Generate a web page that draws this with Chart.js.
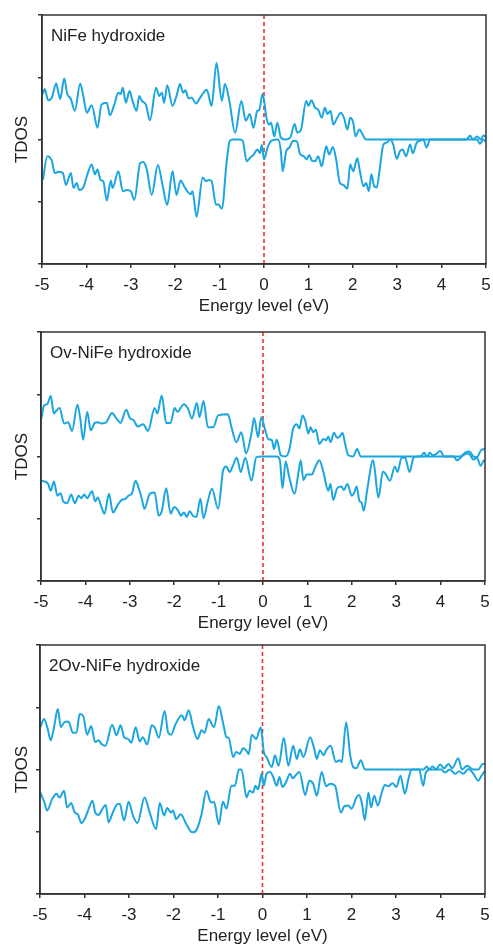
<!DOCTYPE html>
<html>
<head>
<meta charset="utf-8">
<script src="https://cdn.jsdelivr.net/npm/chart.js@4.4.1/dist/chart.umd.min.js"></script>
<style>
  body { margin: 0; background: #fff; }
  canvas { position: absolute; left: 0; }
</style>
</head>
<body>
<canvas id="p1" width="493" height="317" style="top:0px"></canvas>
<canvas id="p2" width="493" height="317" style="top:317px"></canvas>
<canvas id="p3" width="493" height="317" style="top:630px"></canvas>
<script>
// TDOS curves, energy in eV, spin-up above zero and spin-down below
const xTicks = [-5, -4, -3, -2, -1, 0, 1, 2, 3, 4, 5]
const yTicks = [-2, -1, 0, 1, 2]

const nifeUpE = [-4.98,-4.94,-4.86,-4.78,-4.68,-4.63,-4.59,-4.50,-4.43,-4.35,
  -4.26,-4.14,-4.07,-3.99,-3.88,-3.75,-3.66,-3.54,-3.47,-3.38,
  -3.28,-3.23,-3.18,-3.11,-3.03,-2.96,-2.87,-2.81,-2.75,-2.66,
  -2.57,-2.43,-2.36,-2.30,-2.25,-2.18,-2.06,-1.97,-1.89,-1.82,
  -1.77,-1.70,-1.63,-1.53,-1.44,-1.29,-1.18,-1.07,-0.95,-0.88,
  -0.78,-0.65,-0.51,-0.41,-0.32,-0.24,-0.15,-0.11,-0.03,0.06,
  0.12,0.16,0.23,0.30,0.38,0.47,0.59,0.69,0.75,0.83,
  0.95,1.00,1.07,1.15,1.22,1.30,1.37,1.43,1.50,1.56,
  1.65,1.73,1.80,1.88,1.94,2.01,2.06,2.15,2.22,2.30,
  4.56,4.64,4.71,4.80,4.88,4.95,5.00]
const nifeUpV = [0.73,0.81,0.63,0.67,0.90,0.75,0.65,0.98,0.73,0.65,
  0.46,0.90,0.70,0.43,0.55,0.19,0.56,0.59,0.39,0.54,
  0.75,0.73,0.83,0.59,0.78,0.62,0.46,0.70,0.62,0.56,
  0.31,0.83,0.70,0.75,0.59,0.87,0.54,0.70,0.89,0.75,
  0.79,0.66,0.67,0.58,0.67,0.80,0.54,1.23,0.62,0.89,
  0.62,0.11,0.62,0.30,0.41,0.19,0.46,0.47,0.73,0.33,
  0.24,0.27,0.05,0.27,0.03,0,0.03,0.25,0.11,0.15,
  0.62,0.54,0.63,0.51,0.48,0.35,0.51,0.41,0.46,0.24,
  0.35,0.43,0.35,0.16,0.35,0.27,0.05,0.16,0.08,0,
  0,0.06,0,0.05,0,0.07,0.03]
const nifeDnE = [-4.98,-4.88,-4.78,-4.71,-4.63,-4.53,-4.46,-4.35,-4.29,-4.22,
  -4.16,-4.07,-3.99,-3.88,-3.81,-3.75,-3.68,-3.62,-3.54,-3.45,
  -3.41,-3.28,-3.18,-3.09,-3.00,-2.92,-2.79,-2.72,-2.64,-2.53,
  -2.39,-2.28,-2.18,-2.06,-1.97,-1.88,-1.80,-1.74,-1.65,-1.61,
  -1.52,-1.38,-1.31,-1.25,-1.18,-1.08,-1.03,-0.95,-0.84,-0.77,
  -0.69,-0.54,-0.48,-0.39,-0.32,-0.23,-0.15,-0.09,-0.05,0.00,
  0.08,0.17,0.32,0.38,0.42,0.50,0.57,0.66,0.74,0.81,
  0.90,0.96,1.02,1.08,1.15,1.22,1.30,1.40,1.47,1.55,
  1.62,1.71,1.79,1.88,1.94,2.01,2.10,2.16,2.24,2.30,
  2.36,2.42,2.48,2.54,2.60,2.69,2.76,2.85,2.91,2.99,
  3.06,3.12,3.20,3.29,3.35,3.44,3.51,3.59,3.66,3.74,
  4.80,4.86,4.94,5.00]
const nifeDnV = [-0.65,-0.27,-0.34,-0.54,-0.52,-0.54,-0.73,-0.54,-0.78,-0.70,
  -0.81,-0.77,-0.59,-0.40,-0.56,-0.48,-0.65,-0.67,-0.98,-0.66,
  -0.78,-0.51,-0.83,-0.81,-0.83,-0.97,-0.38,-0.36,-0.48,-0.89,
  -0.41,-0.75,-1.05,-0.51,-0.89,-0.66,-0.75,-0.82,-0.88,-0.83,
  -1.24,-0.61,-0.67,-0.65,-0.67,-1.05,-1.04,-1.11,-0.35,-0.02,
  0,0,-0.02,-0.35,-0.30,-0.24,-0.16,-0.22,-0.09,-0.32,
  -0.13,-0.02,0,-0.19,-0.51,-0.19,-0.13,-0.02,-0.03,-0.23,
  -0.27,-0.32,-0.25,-0.34,-0.35,-0.27,-0.43,-0.11,-0.24,-0.12,
  -0.30,-0.70,-0.73,-0.79,-0.40,-0.51,-0.30,-0.51,-0.75,-0.70,
  -0.83,-0.56,-0.75,-0.77,-0.51,-0.08,-0.05,0,-0.08,-0.31,
  -0.19,-0.16,-0.27,-0.08,-0.22,-0.05,-0.02,0,-0.13,0,
  0,-0.07,0,-0.04]

const ovUpE = [-4.99,-4.93,-4.86,-4.78,-4.71,-4.65,-4.58,-4.48,-4.39,-4.30,
  -4.18,-4.12,-4.05,-3.96,-3.88,-3.79,-3.72,-3.64,-3.53,-3.40,
  -3.30,-3.21,-3.08,-3.00,-2.91,-2.82,-2.70,-2.59,-2.44,-2.38,
  -2.28,-2.18,-2.08,-1.99,-1.93,-1.78,-1.69,-1.60,-1.49,-1.43,
  -1.34,-1.24,-1.12,-1.01,-0.79,-0.71,-0.60,-0.49,-0.38,-0.26,
  -0.20,-0.11,-0.04,0.05,0.12,0.20,0.25,0.31,0.40,0.50,
  0.59,0.68,0.76,0.82,0.89,0.95,1.02,1.07,1.13,1.19,
  1.27,1.36,1.42,1.47,1.52,1.60,1.67,1.73,1.79,1.85,
  1.92,2.03,2.12,2.20,3.55,3.63,3.69,3.76,3.82,3.90,
  3.99,4.08,4.44,4.57,4.65,4.74,4.82,4.90,4.98,5.00]
const ovUpV = [0.61,0.82,0.84,0.97,0.69,0.74,0.78,0.53,0.55,0.41,
  0.83,0.63,0.27,0.72,0.42,0.54,0.55,0.53,0.55,0.70,
  0.61,0.54,0.75,0.62,0.58,0.48,0.52,0.41,0.78,0.69,
  0.98,0.54,0.54,0.78,0.72,0.84,0.77,0.61,0.86,0.63,
  0.89,0.47,0.47,0.66,0.68,0.47,0.23,0.39,0.05,0.37,
  0.62,0.31,0.63,0.42,0.28,0.26,0.12,0.27,0.02,0,
  0.10,0.45,0.52,0.45,0.66,0.58,0.37,0.47,0.39,0.43,
  0.20,0.28,0.26,0.32,0.23,0.38,0.30,0.32,0.38,0.20,
  0.02,0,0.12,0,0,0.06,0,0.06,0.02,0.04,
  0.09,0,0,0.07,0.08,0,-0.01,0.09,0.12,0.12]
const ovDnE = [-4.99,-4.92,-4.84,-4.78,-4.71,-4.63,-4.56,-4.50,-4.41,-4.32,
  -4.24,-4.15,-4.09,-4.03,-3.96,-3.85,-3.78,-3.72,-3.64,-3.57,
  -3.47,-3.38,-3.28,-3.19,-3.10,-3.03,-2.95,-2.87,-2.80,-2.73,
  -2.67,-2.55,-2.44,-2.35,-2.28,-2.18,-2.08,-2.00,-1.91,-1.85,
  -1.78,-1.72,-1.65,-1.58,-1.50,-1.41,-1.34,-1.24,-1.15,-1.01,
  -0.90,-0.83,-0.75,-0.68,-0.59,-0.50,-0.40,-0.26,-0.15,-0.04,
  0.31,0.38,0.44,0.51,0.59,0.71,0.80,0.85,0.91,0.98,
  1.10,1.17,1.27,1.36,1.47,1.52,1.58,1.67,1.77,1.82,
  1.90,2.00,2.05,2.11,2.17,2.22,2.27,2.35,2.48,2.60,
  2.70,2.77,2.86,2.97,3.03,3.12,3.20,3.30,3.39,3.46,
  4.29,4.37,4.45,4.53,4.63,4.74,4.82,4.90,4.98,5.00]
const ovDnV = [-0.39,-0.40,-0.44,-0.55,-0.40,-0.63,-0.59,-0.72,-0.75,-0.61,
  -0.75,-0.63,-0.67,-0.61,-0.67,-0.56,-0.72,-0.66,-0.81,-0.92,
  -0.60,-0.90,-0.79,-0.70,-0.68,-0.63,-0.59,-0.39,-0.51,-0.68,
  -0.84,-0.60,-0.58,-0.95,-0.88,-0.51,-0.92,-0.81,-0.87,-0.95,
  -0.90,-0.97,-0.88,-0.95,-0.97,-0.68,-0.99,-0.71,-0.52,-0.84,
  -0.23,-0.16,-0.25,-0.15,-0.02,-0.25,-0.02,-0.39,-0.01,0,
  0,-0.06,-0.51,-0.08,-0.33,-0.60,-0.25,-0.06,-0.38,-0.29,
  -0.29,-0.18,-0.06,-0.25,-0.55,-0.44,-0.70,-0.51,-0.48,-0.54,
  -0.44,-0.63,-0.59,-0.48,-0.71,-0.74,-0.87,-0.52,-0.06,-0.66,
  -0.24,-0.29,-0.39,-0.16,-0.25,-0.02,-0.02,-0.25,-0.02,0,
  0,-0.06,-0.02,0.03,0.05,-0.05,-0.02,-0.15,-0.06,-0.08]

const ov2UpE = [-4.99,-4.91,-4.83,-4.76,-4.69,-4.60,-4.53,-4.45,-4.36,-4.26,
  -4.18,-4.11,-4.03,-3.94,-3.85,-3.76,-3.68,-3.62,-3.53,-3.38,
  -3.28,-3.19,-3.11,-3.02,-2.95,-2.85,-2.76,-2.69,-2.59,-2.49,
  -2.42,-2.33,-2.20,-2.12,-2.05,-1.96,-1.81,-1.75,-1.66,-1.56,
  -1.46,-1.37,-1.30,-1.21,-1.09,-0.98,-0.89,-0.81,-0.76,-0.66,
  -0.59,-0.51,-0.44,-0.37,-0.31,-0.24,-0.14,-0.04,0.03,0.09,
  0.21,0.28,0.36,0.48,0.58,0.69,0.77,0.84,0.92,1.07,
  1.16,1.22,1.29,1.37,1.44,1.53,1.65,1.73,1.78,1.88,
  1.97,2.04,2.11,2.21,2.30,3.62,3.69,3.75,3.82,3.90,
  3.99,4.08,4.18,4.26,4.40,4.48,4.60,4.74,4.85,4.95,
  5.00]
const ov2UpV = [0.68,0.81,0.66,0.47,0.66,0.97,0.68,0.76,0.77,0.59,
  0.59,0.89,0.86,0.56,0.70,0.44,0.47,0.41,0.38,0.72,
  0.55,0.71,0.52,0.49,0.43,0.68,0.45,0.52,0.40,0.71,
  0.67,0.51,0.94,0.59,0.56,0.72,0.87,0.79,0.95,0.68,
  0.49,0.63,0.59,0.81,0.68,1.02,0.76,0.52,0.51,0.20,
  0.28,0.25,0.34,0.31,0.25,0.56,0.49,0.68,0.28,0.20,
  0.04,0.23,0.06,0.51,0.06,0.38,0.17,0.32,0.20,0.52,
  0.34,0.17,0.31,0.23,0.32,0.38,0.12,0.15,0.12,0.76,
  0.23,0.04,0.02,0.15,0,0,0.05,0,0.05,0,
  0.08,0.02,0.09,0.02,0.18,0,0.06,0,0,0.09,
  0.09]
const ov2DnE = [-4.99,-4.90,-4.84,-4.73,-4.63,-4.56,-4.46,-4.39,-4.30,-4.22,
  -4.15,-4.07,-4.00,-3.92,-3.82,-3.76,-3.68,-3.62,-3.52,-3.46,
  -3.38,-3.28,-3.21,-3.11,-3.01,-2.91,-2.81,-2.65,-2.54,-2.39,
  -2.31,-2.21,-2.14,-2.06,-2.01,-1.94,-1.84,-1.71,-1.58,-1.48,
  -1.37,-1.26,-1.16,-1.09,-0.98,-0.89,-0.81,-0.70,-0.62,-0.53,
  -0.47,-0.36,-0.29,-0.21,-0.16,-0.10,-0.02,0.03,0.09,0.17,
  0.24,0.32,0.38,0.45,0.53,0.62,0.68,0.75,0.83,0.96,
  1.05,1.14,1.22,1.33,1.43,1.52,1.63,1.76,1.84,1.93,
  2.00,2.11,2.17,2.23,2.30,2.38,2.44,2.51,2.59,2.68,
  2.75,2.83,2.92,3.01,3.10,3.20,3.28,3.35,3.52,3.61,
  3.67,3.76,4.02,4.10,4.21,4.33,4.42,4.51,4.63,4.74,
  4.85,4.92,5.00]
const ov2DnV = [-0.37,-0.53,-0.66,-0.48,-0.39,-0.45,-0.34,-0.61,-0.54,-0.69,
  -0.72,-0.86,-0.80,-0.66,-0.50,-0.69,-0.73,-0.66,-0.57,-0.85,
  -0.72,-0.57,-0.55,-0.82,-0.52,-0.74,-0.86,-0.45,-0.68,-0.96,
  -0.54,-0.74,-0.62,-0.69,-0.66,-0.80,-0.72,-0.88,-1.01,-0.97,
  -0.72,-0.34,-0.53,-0.52,-0.88,-0.52,-0.63,-0.26,-0.26,0,
  0,-0.45,-0.34,-0.37,-0.26,-0.32,-0.07,-0.26,-0.07,-0.04,
  -0.12,-0.26,-0.12,-0.28,-0.20,-0.07,-0.14,-0.09,-0.04,-0.41,
  -0.18,-0.23,-0.42,-0.04,-0.27,-0.23,-0.26,-0.69,-0.59,-0.58,
  -0.63,-0.45,-0.41,-0.53,-0.81,-0.37,-0.61,-0.42,-0.58,-0.37,
  -0.25,-0.27,-0.22,-0.28,-0.10,-0.39,-0.15,0,0,-0.26,
  -0.05,0,0,-0.05,0,-0.07,-0.03,-0.07,0.01,-0.07,
  -0.18,-0.10,-0.02]

var blue = '#1ba6e0'
var red = '#e5322d'
var axisColor = '#333'
var textColor = '#222'
var fontFamily = '"Liberation Sans", Arial, sans-serif'
var fontSize = 17

function pts(es, vs){
    return es.map(function(e, i){ return {x: e, y: vs[i]} })
}

// box round the plot area plus the sample name in the corner
var framePlugin = {
    id: 'frame',
    afterDraw: function(chart){
        var ctx = chart.ctx
        var a = chart.chartArea
        ctx.save()
        ctx.strokeStyle = axisColor
        ctx.lineWidth = 1.5
        ctx.strokeRect(a.left, a.top, a.right - a.left, a.bottom - a.top)
        ctx.fillStyle = textColor
        ctx.font = fontSize + 'px ' + fontFamily
        ctx.textBaseline = 'middle'
        ctx.fillText(chart.options.plugins.frame.name, a.left + 9, a.top + 21)
        ctx.restore()
    }
}

function panel(id, name, upE, upV, dnE, dnV, left, right){
    var c = document.getElementById(id).getContext('2d')
    return new Chart(c, {
        type: 'line',
        data: {
            datasets: [
                { data: pts(upE, upV), borderColor: blue, borderWidth: 2, pointRadius: 0, cubicInterpolationMode: 'monotone' },
                { data: pts(dnE, dnV), borderColor: blue, borderWidth: 2, pointRadius: 0, cubicInterpolationMode: 'monotone' },
                { data: [{x: 0, y: -2}, {x: 0, y: 2}], borderColor: red, borderWidth: 1.6, borderDash: [4, 3], pointRadius: 0 }
            ]
        },
        options: {
            responsive: false,
            animation: false,
            layout: { padding: { left: 0, top: 15, right: 493 - right, bottom: 0 } },
            plugins: { legend: { display: false }, tooltip: { enabled: false }, frame: { name: name } },
            scales: {
                x: {
                    type: 'linear', min: -5, max: 5,
                    afterBuildTicks: function(s){ s.ticks = xTicks.map(function(v){ return {value: v} }) },
                    // fixed height, and no extra room for the end labels
                    afterFit: function(s){ s.height = 53; s.paddingLeft = 0; s.paddingRight = 0 },
                    grid: { drawOnChartArea: false, tickLength: 4, color: axisColor, lineWidth: 1.5 },
                    border: { color: axisColor, width: 1.5 },
                    ticks: { color: textColor, padding: 7, maxRotation: 0, font: { family: fontFamily, size: fontSize } },
                    title: { display: true, text: 'Energy level (eV)', color: textColor, padding: 0, font: { family: fontFamily, size: fontSize } }
                },
                y: {
                    type: 'linear', min: -2, max: 2,
                    afterBuildTicks: function(s){ s.ticks = yTicks.map(function(v){ return {value: v} }) },
                    afterFit: function(s){ s.width = left; s.paddingTop = 0; s.paddingBottom = 0 },
                    grid: { drawOnChartArea: false, tickLength: 4, color: axisColor, lineWidth: 1.5 },
                    border: { color: axisColor, width: 1.5 },
                    ticks: { display: false },
                    title: { display: true, text: 'TDOS', color: textColor, padding: { top: 12, bottom: 0 }, font: { family: fontFamily, size: fontSize } }
                }
            }
        },
        plugins: [framePlugin]
    })
}

panel('p1', 'NiFe hydroxide', nifeUpE, nifeUpV, nifeDnE, nifeDnV, 42, 486)
panel('p2', 'Ov-NiFe hydroxide', ovUpE, ovUpV, ovDnE, ovDnV, 41, 485)
panel('p3', '2Ov-NiFe hydroxide', ov2UpE, ov2UpV, ov2DnE, ov2DnV, 40, 485)
</script>
</body>
</html>
